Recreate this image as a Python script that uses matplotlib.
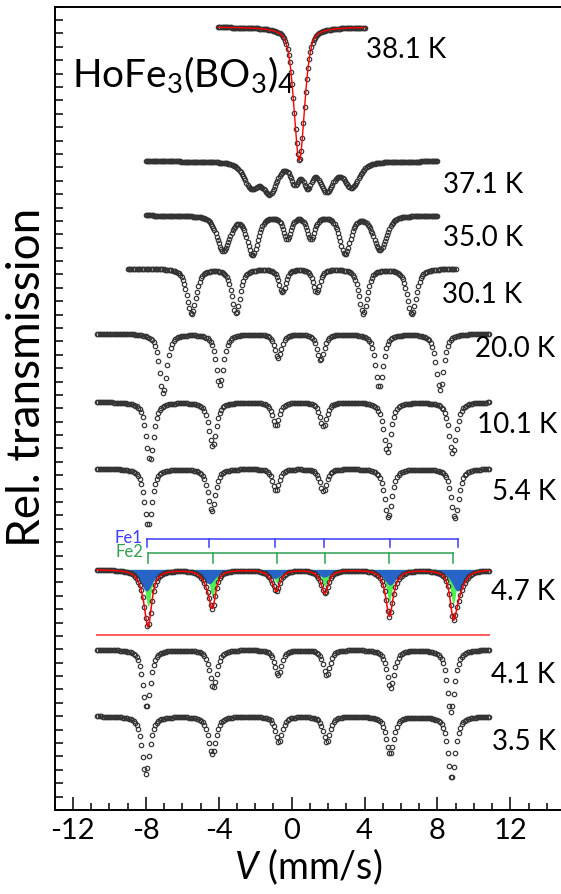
import numpy as np
import matplotlib.pyplot as plt
from matplotlib.ticker import MultipleLocator

plt.rcParams['font.family'] = ['Lato', 'DejaVu Sans']
plt.rcParams['mathtext.fontset'] = 'custom'
plt.rcParams['mathtext.rm'] = 'Lato'
plt.rcParams['mathtext.it'] = 'Lato:italic'
plt.rcParams['axes.unicode_minus'] = False

# temperatures, top to bottom
temps = ['38.1 K', '37.1 K', '35.0 K', '30.1 K', '20.0 K',
         '10.1 K', '5.4 K', '4.7 K', '4.1 K', '3.5 K']
baselines = [58.49, 48.47, 44.43, 40.46, 35.60, 30.49, 25.52, 17.97, 12.00, 7.02]
v_lo = [-4.03, -8.0, -8.0, -9.0, -10.7, -10.7, -10.7, -10.7, -10.7, -10.7]
v_hi = [4.02, 8.0, 8.0, 9.0, 10.85, 10.85, 10.85, 10.85, 10.85, 10.85]
n_points = [130, 256, 256, 256, 256, 256, 256, 256, 256, 256]

# line positions (mm/s), depths, widths (4.7 K uses the Fe1/Fe2 subspectra below)
line_pos = [
    [0.42],
    [-2.2, -1.19, 0.18, 0.88, 1.92, 3.29],
    [-3.75, -2.14, -0.24, 1.06, 2.93, 4.85],
    [-5.49, -3.06, -0.51, 1.37, 3.93, 6.59],
    [-7.05, -3.94, -0.74, 1.59, 4.81, 8.14],
    [-7.78, -4.34, -0.86, 1.74, 5.25, 8.84],
    [-7.87, -4.39, -0.86, 1.74, 5.30, 8.96],
    None,
    [-7.96, -4.30, -0.74, 1.92, 5.43, 8.74],
    [-8.00, -4.36, -0.70, 1.92, 5.40, 8.78],
]
line_depth = [
    [9.96],
    [1.85, 2.2, 1.45, 1.7, 2.1, 1.85],
    [2.6, 2.9, 1.68, 1.68, 2.85, 2.55],
    [3.41, 3.32, 1.75, 1.75, 3.36, 3.41],
    [4.48, 3.86, 1.79, 1.99, 3.99, 4.18],
    [4.35, 3.31, 1.74, 1.81, 3.73, 3.85],
    [4.23, 3.17, 1.62, 1.70, 3.66, 3.73],
    None,
    [4.33, 2.84, 1.92, 1.92, 2.84, 4.66],
    [4.33, 2.84, 1.92, 1.92, 2.84, 4.65],
]
line_fwhm = [
    [0.7],
    [1.0, 0.9, 0.55, 0.55, 0.9, 1.0],
    [0.85, 0.7, 0.5, 0.5, 0.7, 0.85],
    [0.6, 0.55, 0.45, 0.45, 0.55, 0.6],
    [0.5, 0.5, 0.45, 0.45, 0.5, 0.5],
    [0.5, 0.5, 0.45, 0.45, 0.5, 0.5],
    [0.5, 0.5, 0.45, 0.45, 0.5, 0.5],
    None,
    [0.5, 0.5, 0.45, 0.45, 0.5, 0.5],
    [0.5, 0.5, 0.45, 0.45, 0.5, 0.5],
]
line_eta = [0.5, 0.5, 0.5, 0.6, 0.7, 0.7, 0.7, 0.7, 0.7, 0.7]

# 4.7 K: two iron sites
fe1_pos = [-7.96, -4.52, -0.92, 1.79, 5.40, 9.11]
fe1_depth = [1.6, 1.05, 0.65, 0.55, 1.15, 1.6]
fe1_fwhm = 0.8
fe2_pos = [-7.87, -4.34, -0.82, 1.83, 5.36, 8.87]
fe2_depth = [2.75, 2.0, 0.98, 1.22, 2.35, 2.55]
fe2_fwhm = 0.4
residual_y = 13.07

label_x = [4.08, 8.29, 8.29, 8.23, 10.06, 10.15, 10.98, 10.92, 10.92, 10.98]
label_y = [56.14, 46.05, 42.12, 37.89, 33.85, 28.16, 23.15, 15.68, 9.48, 4.48]


def lines(v, pos, depth, fwhm, eta):
    if np.isscalar(fwhm):
        fwhm = [fwhm] * len(pos)
    out = np.zeros_like(v)
    for p, d, w in zip(pos, depth, fwhm):
        x = 2 * (v - p) / w
        out += d * (eta / (1 + x**2) + (1 - eta) * np.exp(-np.log(2) * x**2))
    return out


fig = plt.figure(figsize=(5.61, 8.94), dpi=100)
ax = fig.add_axes([0.0975, 0.094, 0.9025, 0.8985])

pt_style = dict(ls='none', marker='o', ms=3.2, mfc='none', mec='#333333', mew=0.85, zorder=3)

for i in range(len(temps)):
    base = baselines[i]
    v = np.linspace(v_lo[i], v_hi[i], n_points[i])
    vf = np.linspace(v_lo[i], v_hi[i], 1500)
    if i == 7:
        a1 = lines(v, fe1_pos, fe1_depth, fe1_fwhm, line_eta[i])
        a2 = lines(v, fe2_pos, fe2_depth, fe2_fwhm, line_eta[i])
        f1 = lines(vf, fe1_pos, fe1_depth, fe1_fwhm, line_eta[i])
        f2 = lines(vf, fe2_pos, fe2_depth, fe2_fwhm, line_eta[i])
        ax.fill_between(vf, base - f2, base, color='#50f050', lw=0, zorder=1)
        ax.fill_between(vf, base - f1, base, color='#2864c8', lw=0, zorder=2)
        ax.plot(v, base - a1 - a2, **pt_style)
        ax.plot(vf, base - f1 - f2, color='red', lw=1.1, zorder=4)
        ax.plot(vf, np.full_like(vf, residual_y), color='red', lw=0.9, zorder=4)
    else:
        y = base - lines(v, line_pos[i], line_depth[i], line_fwhm[i], line_eta[i])
        ax.plot(v, y, **pt_style)
        if i == 0:
            yf = base - lines(vf, line_pos[i], line_depth[i], line_fwhm[i], line_eta[i])
            ax.plot(vf, yf, color='red', lw=1.0, zorder=4)
    ax.text(label_x[i], label_y[i], temps[i], fontsize=20, ha='left', va='baseline')

# Fe1 / Fe2 line markers above the 4.7 K spectrum
for pos, y_top, y_bot, col, name in [(fe1_pos, 20.24, 19.62, '#3c3cff', 'Fe1'),
                                     (fe2_pos, 19.17, 18.46, '#30a050', 'Fe2')]:
    ax.plot([pos[0], pos[-1]], [y_top, y_top], color=col, lw=1.1)
    for p in pos:
        ax.plot([p, p], [y_top, y_bot], color=col, lw=1.1)
    ax.text(pos[0] - 0.25, y_top + 0.1, name, color=col, fontsize=12, ha='right', va='center')

ax.text(-12.07, 53.97, r'HoFe$_3$(BO$_3$)$_4$', fontsize=28, ha='left', va='baseline')

ax.set_xlim(-13.0, 14.78)
ax.set_ylim(0, 60)
ax.xaxis.set_major_locator(MultipleLocator(4))
ax.xaxis.set_minor_locator(MultipleLocator(1))
ax.yaxis.set_major_locator(MultipleLocator(1))
ax.tick_params(axis='x', which='major', direction='in', length=9.7, width=1.1, labelsize=21, pad=6)
ax.tick_params(axis='x', which='minor', direction='in', length=4.8, width=1.1)
ax.tick_params(axis='y', which='major', direction='in', length=5.8, width=1.1, labelleft=False)
ax.spines['right'].set_visible(False)
for s in ['left', 'top', 'bottom']:
    ax.spines[s].set_linewidth(1.4)

ax.set_xlabel('$V$ (mm/s)', fontsize=27, labelpad=2)
fig.text(27 / 561, 1 - 377.5 / 894, 'Rel. transmission', rotation=90, fontsize=33,
         ha='center', va='center')

fig.savefig('out.png', dpi=100)
